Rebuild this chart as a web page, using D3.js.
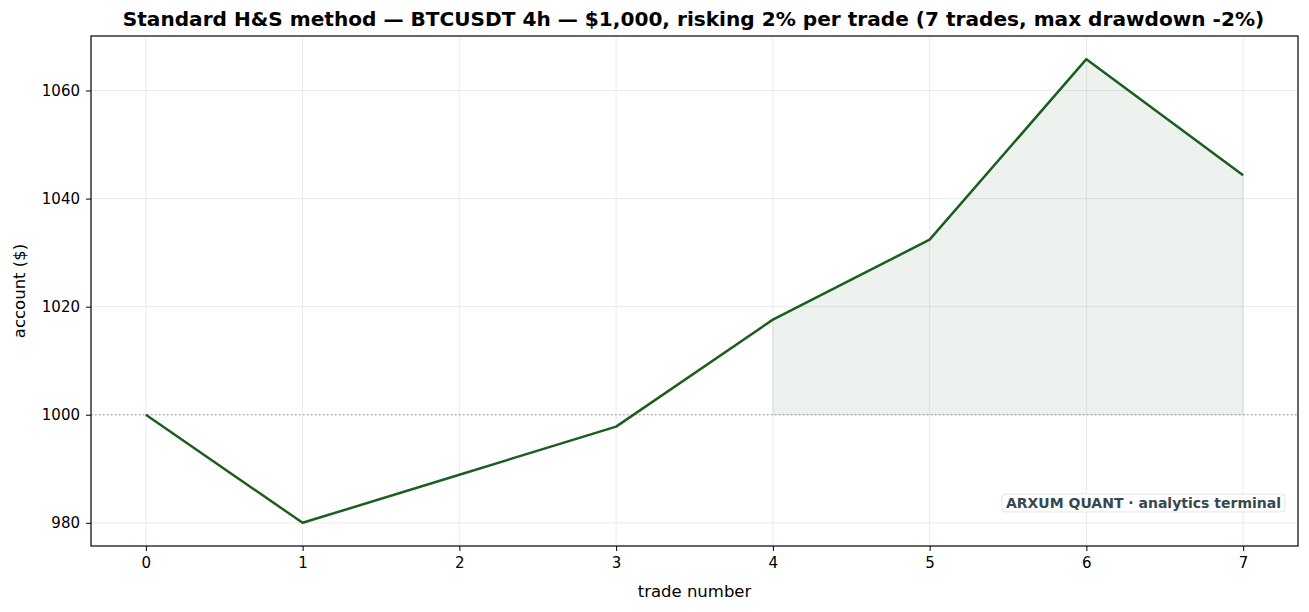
<!DOCTYPE html>
<html><head><meta charset="utf-8">
<script src="https://cdn.jsdelivr.net/npm/d3@7"></script>
<style>body{margin:0;background:#fff}svg{display:block;font-family:"DejaVu Sans",sans-serif}</style>
</head><body>
<svg id="c" width="1309" height="612"></svg>
<script>
const trades = [0,1,2,3,4,5,6,7];
const equity = [1000, 980, 988.9, 997.8, 1017.6, 1032.4, 1065.8, 1044.3];
const xTicks = [0,1,2,3,4,5,6,7];
const yTicks = [980,1000,1020,1040,1060];
const baseline = 1000;
const fillFrom = 4;
const titleText = "Standard H&S method — BTCUSDT 4h — $1,000, risking 2% per trade (7 trades, max drawdown -2%)";
const xLabel = "trade number", yLabel = "account ($)";
const watermark = "ARXUM QUANT · analytics terminal";

const svg = d3.select("#c");
const L=91, R=1298, T=36, B=546;
const x = d3.scaleLinear().domain([-0.35,7.35]).range([L,R]);
const y = d3.scaleLinear().domain([975.71,1070.09]).range([B,T]);

// grid
const g = svg.append("g");
g.selectAll(".vx").data(xTicks).join("line").attr("x1",d=>x(d)).attr("x2",d=>x(d)).attr("y1",T).attr("y2",B).attr("stroke","#e6e6e6").attr("stroke-width",0.8);
g.selectAll(".hy").data(yTicks).join("line").attr("y1",d=>y(d)).attr("y2",d=>y(d)).attr("x1",L).attr("x2",R).attr("stroke","#e6e6e6").attr("stroke-width",0.8);

// fill
const pts = trades.map((t,i)=>({t, v:equity[i]})).filter(d=>d.t>=fillFrom);
svg.append("path").datum(pts).attr("d", d3.area().x(d=>x(d.t)).y0(y(baseline)).y1(d=>y(d.v)))
  .attr("fill","#1b5e20").attr("fill-opacity",0.08).attr("stroke","#1b5e20").attr("stroke-opacity",0.08);

// baseline
svg.append("line").attr("x1",L).attr("x2",R).attr("y1",y(baseline)).attr("y2",y(baseline))
  .attr("stroke","#999").attr("stroke-width",1.1).attr("stroke-dasharray","1.5,2.5");

// line
svg.append("path").datum(trades.map((t,i)=>[t,equity[i]]))
  .attr("d", d3.line().x(d=>x(d[0])).y(d=>y(d[1])))
  .attr("fill","none").attr("stroke","#1b5e20").attr("stroke-width",2.5).attr("stroke-linejoin","round");

// axes
const xa = svg.append("g").attr("transform",`translate(0,${B})`).call(d3.axisBottom(x).tickValues(xTicks).tickSize(5).tickPadding(6).tickFormat(d3.format("d")));
const ya = svg.append("g").attr("transform",`translate(${L},0)`).call(d3.axisLeft(y).tickValues(yTicks).tickSize(5).tickPadding(6).tickFormat(d3.format("d")));
[xa,ya].forEach(a=>{a.select(".domain").remove();a.selectAll("text").attr("font-size",15).attr("fill","#000").attr("font-family","DejaVu Sans");a.selectAll("line").attr("stroke","#000");});

svg.append("rect").attr("x",L).attr("y",T).attr("width",R-L).attr("height",B-T).attr("fill","none").attr("stroke","#000").attr("stroke-width",1.2);

svg.append("text").attr("x",(L+R)/2 - 1).attr("y",26).attr("text-anchor","middle").attr("font-size",20.1).attr("font-weight","bold").text(titleText);
svg.append("text").attr("x",(L+R)/2).attr("y",597).attr("text-anchor","middle").attr("font-size",16.5).text(xLabel);
svg.append("text").attr("transform",`translate(25,${(T+B)/2}) rotate(-90)`).attr("text-anchor","middle").attr("font-size",16.5).text(yLabel);

// watermark
const wm = svg.append("g");
const wt = wm.append("text").attr("x",1281).attr("y",508).attr("text-anchor","end").attr("font-size",14).attr("font-weight","bold").attr("fill","#37474f").text(watermark);
const bb = wt.node().getBBox();
wm.insert("rect","text").attr("x",bb.x-4).attr("y",bb.y-1).attr("width",bb.width+8).attr("height",bb.height+2).attr("rx",4)
  .attr("fill","#fff").attr("fill-opacity",0.85).attr("stroke","#dfe3e6").attr("stroke-width",1);
</script>
</body></html>
